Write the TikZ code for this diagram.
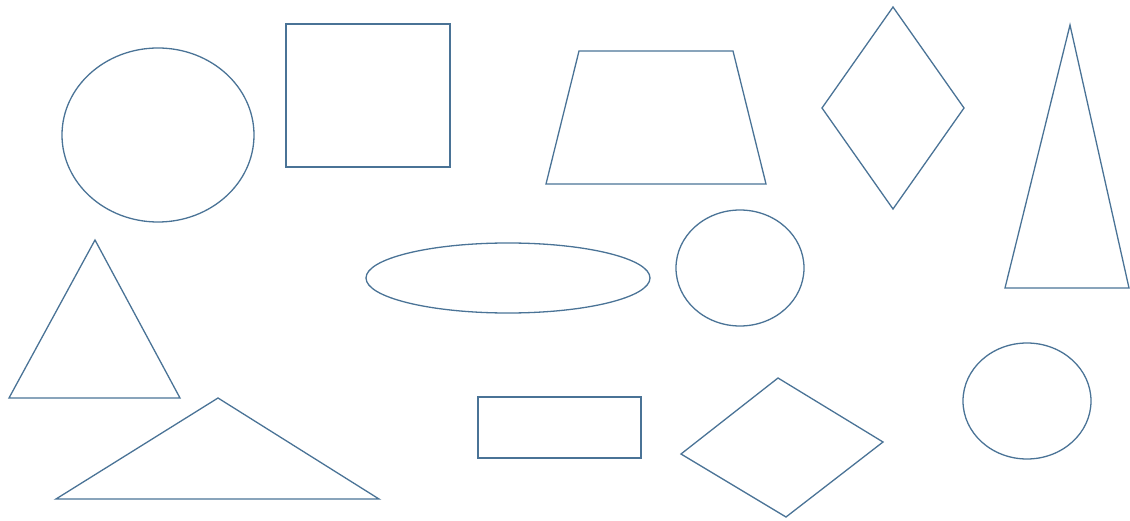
\documentclass[tikz,border=0pt]{standalone}
\begin{document}
\begin{tikzpicture}[x=1pt,y=-1pt,
  shp/.style={draw=shapeblue,line width=1.3pt,line join=miter}]
\definecolor{shapeblue}{HTML}{4A7396}
\useasboundingbox (0,0) rectangle (1130,521);
% ellipse top-left
\draw[shp] (158,135) ellipse [x radius=96, y radius=87];
% square
\draw[shp] (286,24) rectangle (450,167);
% trapezoid
\draw[shp] (579,51) -- (733,51) -- (766,184) -- (546,184) -- cycle;
% diamond top
\draw[shp] (893,7) -- (964,108) -- (893,209) -- (822,108) -- cycle;
% tall triangle
\draw[shp] (1070,25) -- (1129,288) -- (1005,288) -- cycle;
% left triangle
\draw[shp] (95,240) -- (180,398) -- (9,398) -- cycle;
% flat ellipse
\draw[shp] (508,278) ellipse [x radius=142, y radius=35];
% middle circle
\draw[shp] (740,268) ellipse [x radius=64, y radius=58];
% wide triangle
\draw[shp] (218,398) -- (379,499) -- (56,499) -- cycle;
% rectangle
\draw[shp] (478,397) rectangle (641,458);
% diamond bottom
\draw[shp] (778,378) -- (883,442) -- (786,517) -- (681,454) -- cycle;
% right circle
\draw[shp] (1027,401) ellipse [x radius=64, y radius=58];
\end{tikzpicture}
\end{document}
